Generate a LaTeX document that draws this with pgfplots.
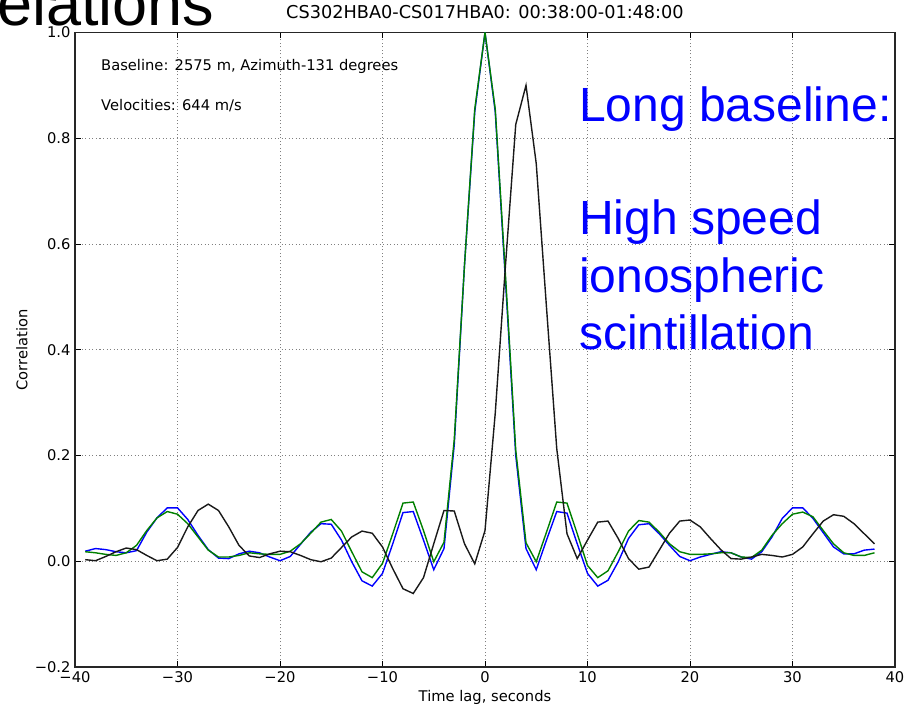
\documentclass[border=0pt]{standalone}
\usepackage{fontspec}
\setmainfont{DejaVu Sans}
\newfontfamily\arialf{Liberation Sans}
\usepackage{pgfplots}
\pgfplotsset{compat=1.18}
\definecolor{mplblue}{rgb}{0,0,1}
\definecolor{mplgreen}{rgb}{0,0.5,0}
\begin{document}
\begin{tikzpicture}
\begin{axis}[
  at={(75pt,40pt)}, anchor=south west,
  width=820pt, height=634.5pt, scale only axis,
  xmin=-40, xmax=40, ymin=-0.2, ymax=1.0,
  xtick={-40,-30,-20,-10,0,10,20,30,40},
  xticklabels={−40,−30,−20,−10,0,10,20,30,40},
  ytick={-0.2,0,0.2,0.4,0.6,0.8,1.0},
  yticklabels={−0.2,0.0,0.2,0.4,0.6,0.8,1.0},
  tick align=inside, xtick pos=both, ytick pos=both,
  major tick length=6pt,
  tick style={black, line width=0.8pt},
  grid=major,
  major grid style={dash pattern=on 1pt off 2.5pt, black!50, line width=0.8pt},
  axis line style={black!85, line width=1.3pt},
  tick label style={font=\fontsize{14.7}{16}\selectfont},
  xticklabel style={yshift=-1pt},
  yticklabel style={xshift=-1pt},
  xlabel={Time lag, seconds},
  x label style={at={(axis description cs:0.5,0)}, anchor=base, yshift=-35pt, font=\fontsize{14.7}{16}\selectfont},
  ylabel={Correlation},
  y label style={at={([xshift=-53pt]axis description cs:0,0.5)}, anchor=center, font=\fontsize{14.7}{16}\selectfont},
  title={CS302HBA0-CS017HBA0: 00:38:00-01:48:00},
  title style={at={(axis description cs:0.5,1)}, anchor=base, yshift=7.5pt, font=\fontsize{17.7}{19}\selectfont},
]
\addplot[mplblue, line width=1.4pt] coordinates {
(-39,0.019)(-38,0.024)(-37,0.022)(-36,0.018)(-35,0.016)(-34,0.020)(-33,0.055)(-32,0.082)(-31,0.101)(-30,0.101)
(-29,0.079)(-28,0.049)(-27,0.022)(-26,0.006)(-25,0.005)(-24,0.014)(-23,0.019)(-22,0.016)(-21,0.008)(-20,0.001)
(-19,0.009)(-18,0.032)(-17,0.055)(-16,0.071)(-15,0.070)(-14,0.040)(-13,-0.001)(-12,-0.037)(-11,-0.047)(-10,-0.023)
(-9,0.033)(-8,0.092)(-7,0.094)(-6,0.040)(-5,-0.016)(-4,0.024)(-3,0.22)(-2,0.56)(-1,0.85)(0,1.0)
(1,0.85)(2,0.53)(3,0.20)(4,0.024)(5,-0.016)(6,0.040)(7,0.094)(8,0.091)(9,0.033)(10,-0.023)
(11,-0.047)(12,-0.036)(13,-0.001)(14,0.043)(15,0.069)(16,0.071)(17,0.052)(18,0.030)(19,0.009)(20,0.001)
(21,0.008)(22,0.013)(23,0.018)(24,0.016)(25,0.008)(26,0.004)(27,0.018)(28,0.046)(29,0.081)(30,0.101)
(31,0.101)(32,0.081)(33,0.054)(34,0.027)(35,0.014)(36,0.014)(37,0.021)(38,0.023)
};
\addplot[mplgreen, line width=1.4pt] coordinates {
(-39,0.018)(-38,0.016)(-37,0.013)(-36,0.011)(-35,0.016)(-34,0.030)(-33,0.058)(-32,0.082)(-31,0.094)(-30,0.089)
(-29,0.071)(-28,0.046)(-27,0.021)(-26,0.008)(-25,0.008)(-24,0.011)(-23,0.016)(-22,0.014)(-21,0.013)(-20,0.013)
(-19,0.019)(-18,0.033)(-17,0.053)(-16,0.074)(-15,0.079)(-14,0.057)(-13,0.018)(-12,-0.020)(-11,-0.031)(-10,-0.004)
(-9,0.052)(-8,0.110)(-7,0.112)(-6,0.058)(-5,-0.001)(-4,0.036)(-3,0.23)(-2,0.56)(-1,0.855)(0,1.0)
(1,0.855)(2,0.54)(3,0.21)(4,0.035)(5,-0.001)(6,0.055)(7,0.112)(8,0.110)(9,0.052)(10,-0.008)
(11,-0.031)(12,-0.018)(13,0.018)(14,0.057)(15,0.077)(16,0.074)(17,0.055)(18,0.033)(19,0.018)(20,0.013)
(21,0.013)(22,0.014)(23,0.016)(24,0.016)(25,0.008)(26,0.007)(27,0.021)(28,0.049)(29,0.071)(30,0.089)
(31,0.093)(32,0.084)(33,0.058)(34,0.033)(35,0.016)(36,0.011)(37,0.011)(38,0.016)
};
\addplot[black!90, line width=1.4pt] coordinates {
(-39,0.003)(-38,0.001)(-37,0.009)(-36,0.018)(-35,0.025)(-34,0.022)(-33,0.011)(-32,0.001)(-31,0.004)(-30,0.026)
(-29,0.065)(-28,0.096)(-27,0.108)(-26,0.096)(-25,0.065)(-24,0.030)(-23,0.010)(-22,0.007)(-21,0.014)(-20,0.019)
(-19,0.018)(-18,0.011)(-17,0.003)(-16,-0.001)(-15,0.006)(-14,0.026)(-13,0.046)(-12,0.057)(-11,0.053)(-10,0.027)
(-9,-0.014)(-8,-0.052)(-7,-0.061)(-6,-0.031)(-5,0.033)(-4,0.096)(-3,0.095)(-2,0.033)(-1,-0.005)(0,0.058)
(1,0.28)(2,0.56)(3,0.826)(4,0.90)(5,0.752)(6,0.48)(7,0.213)(8,0.052)(9,0.005)(10,0.040)
(11,0.074)(12,0.076)(13,0.043)(14,0.005)(15,-0.015)(16,-0.011)(17,0.021)(18,0.053)(19,0.076)(20,0.078)
(21,0.065)(22,0.043)(23,0.022)(24,0.005)(25,0.004)(26,0.008)(27,0.013)(28,0.011)(29,0.008)(30,0.013)
(31,0.027)(32,0.052)(33,0.076)(34,0.088)(35,0.085)(36,0.071)(37,0.052)(38,0.033)
};
\end{axis}
\node[anchor=base west, inner sep=0pt, font=\fontsize{14.7}{16}\selectfont] at (101pt,636pt) {Baseline: 2575 m, Azimuth-131 degrees};
\node[anchor=base west, inner sep=0pt, font=\fontsize{14.7}{16}\selectfont] at (101pt,596pt) {Velocities: 644 m/s};
\begin{scope}[every node/.style={anchor=base west, inner sep=0pt, text=mplblue, font=\arialf\fontsize{48}{57}\selectfont}]
\node at (579pt,585.3pt) {Long baseline:};
\node at (579pt,472pt) {High speed};
\node at (579pt,414.7pt) {ionospheric};
\node at (579pt,357.7pt) {scintillation};
\end{scope}
\node[anchor=base west, inner sep=0pt, font=\arialf\fontsize{63}{70}\selectfont] at (-3pt,681.5pt) {elations};
\pgfresetboundingbox
\useasboundingbox (0pt,0pt) rectangle (906pt,707pt);
\end{tikzpicture}
\end{document}
